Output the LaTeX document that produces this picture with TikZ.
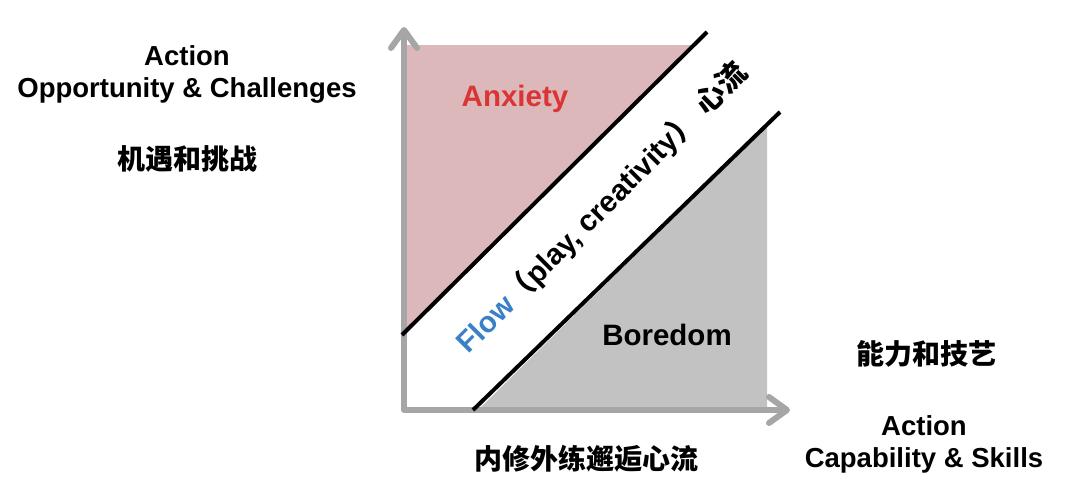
\documentclass[tikz,border=0pt]{standalone}
\usepackage{fontspec}
\setmainfont{Liberation Sans}
\newfontfamily\cjk{Noto Sans CJK SC}
\usetikzlibrary{arrows.meta}
\definecolor{pinkfill}{HTML}{DDB8BA}
\definecolor{grayfill}{HTML}{C2C2C2}
\definecolor{axisgray}{HTML}{A6A6A6}
\definecolor{anxred}{HTML}{D93535}
\definecolor{flowblue}{HTML}{3A80C6}
\begin{document}
\begin{tikzpicture}[x=1pt,y=-1pt,
  lbl/.style={font=\bfseries\fontsize{27.5}{33}\selectfont, anchor=base, inner sep=0pt},
  cjklbl/.style={font=\cjk\bfseries\fontsize{28}{33}\selectfont, anchor=base, inner sep=0pt},
  zone/.style={font=\bfseries\fontsize{29.5}{35}\selectfont, anchor=base, inner sep=0pt},
  axisline/.style={draw=axisgray, line width=6pt, line join=round,
     {Straight Barb[length=18pt,width=26pt,line cap=round,line join=round]}-{Straight Barb[length=18pt,width=26pt,line cap=round,line join=round]}},
  diag/.style={draw=black, line width=4pt}]
\useasboundingbox (0,0) rectangle (1080,498);
% regions
\fill[pinkfill] (407,45) -- (693,45) -- (407,331) -- cycle;
\fill[grayfill] (478,410) -- (767,410) -- (767,126) -- cycle;
% axes
\coordinate (ytip) at (404,27);
\coordinate (origin) at (404,410);
\coordinate (xtip) at (790,410);
\draw[axisline] (ytip) -- (origin) -- (xtip);
% diagonal lines
\coordinate (u1) at (402,335);
\coordinate (u2) at (707,32);
\coordinate (l1) at (473,410);
\coordinate (l2) at (780,112);
\draw[diag] (u1) -- (u2);
\draw[diag] (l1) -- (l2);
% labels
\node[lbl] (a1) at (187,65) {Action};
\node[lbl] (a2) at (187,97) {Opportunity \& Challenges};
\node[cjklbl] (a3) at (187,169) {机遇和挑战};
\node[cjklbl] (b3) at (926,364) {能力和技艺};
\node[lbl] (b1) at (924,435) {Action};
\node[lbl] (b2) at (924,467) {Capability \& Skills};
\node[cjklbl] (c1) at (586,469) {内修外练邂逅心流};
\node[zone, text=anxred] (anx) at (515,106) {Anxiety};
\node[zone] (bor) at (667,345) {Boredom};
\node[inner sep=0pt, rotate=45, font=\bfseries\fontsize{29.5}{35}\selectfont] (flow) at (602,208)
  {\textcolor{flowblue}{Flow}{\cjk\bfseries （}play, creativity{\cjk\bfseries ）} {\cjk\bfseries 心流}};
\end{tikzpicture}
\end{document}
